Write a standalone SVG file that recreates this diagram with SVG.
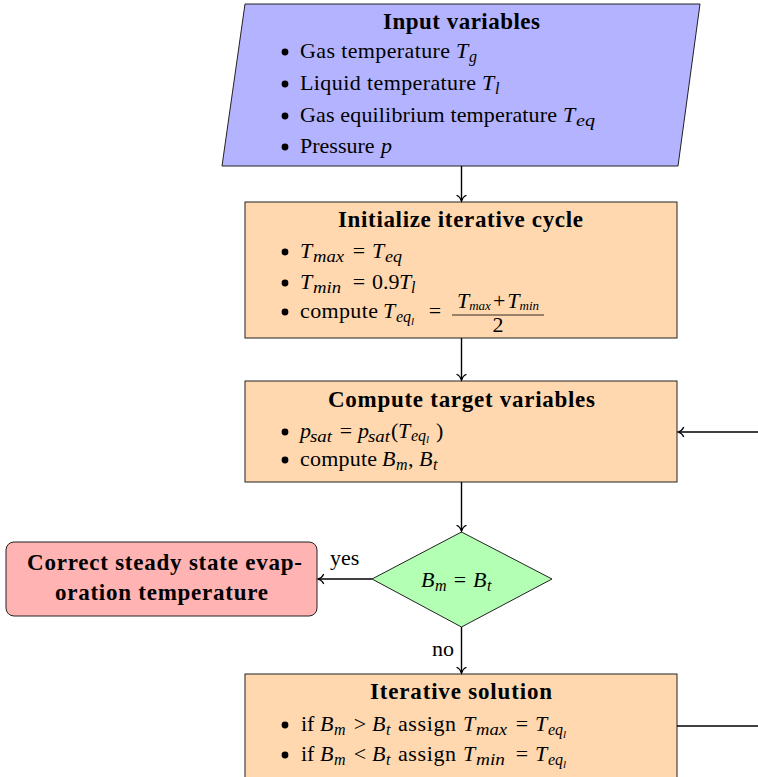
<svg xmlns="http://www.w3.org/2000/svg" width="758" height="777" viewBox="0 0 758 777">
<style>
text { font-family: "Liberation Serif", "DejaVu Serif", serif; font-size: 22px; fill: #000; }
.b { font-weight: bold; font-size: 23px; }
.m { font-style: italic; }
.s { font-size: 16px; font-style: italic; }
.shape { stroke: #222; stroke-width: 1; }
.conn { stroke: #000; stroke-width: 1.4; fill: none; }
</style>
<defs>
<marker id="arr" viewBox="-7 -6 9 12" markerWidth="9" markerHeight="12" refX="0" refY="0" orient="auto" markerUnits="userSpaceOnUse">
<path d="M-5.5,-4.5 C-4.5,-2 -1.8,-0.6 0,0 C-1.8,0.6 -4.5,2 -5.5,4.5" fill="none" stroke="#000" stroke-width="1.3" stroke-linecap="round"/>
</marker>
<circle id="bul" cx="0" cy="0" r="3.4" fill="#000"/>
</defs>

<g id="input">
<polygon class="shape" points="245,4 700,4 678,166 222,166" fill="#b3b3ff"/>
<text class="b" x="383" y="29" textLength="157" lengthAdjust="spacing">Input variables</text>
<use href="#bul" x="285" y="52"/>
<text x="300" y="58" textLength="150" lengthAdjust="spacing">Gas temperature</text>
<text class="m" x="456" y="58">T</text><text class="s" x="469" y="62">g</text>
<use href="#bul" x="285" y="84"/>
<text x="300" y="90" textLength="176" lengthAdjust="spacing">Liquid temperature</text>
<text class="m" x="482" y="90">T</text><text class="s" x="495" y="94">l</text>
<use href="#bul" x="285" y="116"/>
<text x="300" y="122" textLength="257" lengthAdjust="spacing">Gas equilibrium temperature</text>
<text class="m" x="563" y="122">T</text><text class="s" x="576" y="126" textLength="19" lengthAdjust="spacingAndGlyphs">eq</text>
<use href="#bul" x="285" y="147"/>
<text x="300" y="153">Pressure</text>
<text class="m" x="381" y="153">p</text>
</g>

<g id="init">
<rect class="shape" x="245" y="202" width="432" height="136" fill="#ffd8b0"/>
<text class="b" x="338" y="227" textLength="245" lengthAdjust="spacing">Initialize iterative cycle</text>
<use href="#bul" x="285" y="252"/>
<text class="m" x="300" y="258">T</text><text class="s" x="313" y="262" textLength="31" lengthAdjust="spacingAndGlyphs">max</text>
<text x="359" y="258" text-anchor="middle">=</text>
<text class="m" x="372" y="258">T</text><text class="s" x="385" y="262" textLength="17" lengthAdjust="spacingAndGlyphs">eq</text>
<use href="#bul" x="285" y="283"/>
<text class="m" x="300" y="289">T</text><text class="s" x="313" y="293" textLength="28" lengthAdjust="spacingAndGlyphs">min</text>
<text x="359" y="289" text-anchor="middle">=</text>
<text x="372" y="289">0.9</text>
<text class="m" x="399" y="289">T</text><text class="s" x="411" y="293">l</text>
<use href="#bul" x="285" y="312"/>
<text x="300" y="318" textLength="78" lengthAdjust="spacing">compute</text>
<text class="m" x="383" y="318">T</text><text class="s" x="396" y="322">eq<tspan font-size="11" dy="3">l</tspan></text>
<text x="435" y="318" text-anchor="middle">=</text>
<text x="498" y="308" text-anchor="middle" font-size="17" font-style="italic">T<tspan font-size="13" dy="2">max</tspan><tspan font-style="normal" dy="-2" dx="2">+</tspan><tspan dx="2">T</tspan><tspan font-size="13" dy="2">min</tspan></text>
<line x1="452" y1="315" x2="544" y2="315" stroke="#000" stroke-width="0.8"/>
<text x="498" y="332" text-anchor="middle" font-size="16">2</text>
</g>

<g id="compute">
<rect class="shape" x="245" y="381" width="432" height="101" fill="#ffd8b0"/>
<text class="b" x="328" y="407" textLength="267" lengthAdjust="spacing">Compute target variables</text>
<use href="#bul" x="285" y="432"/>
<text class="m" x="300" y="438">p</text><text class="s" x="310" y="442" textLength="22" lengthAdjust="spacingAndGlyphs">sat</text>
<text x="346" y="438" text-anchor="middle">=</text>
<text class="m" x="358" y="438">p</text><text class="s" x="368" y="442" textLength="22" lengthAdjust="spacingAndGlyphs">sat</text>
<text x="391" y="438">(</text>
<text class="m" x="398" y="438">T</text><text class="s" x="411" y="441">eq<tspan font-size="11" dy="2">l</tspan></text>
<text x="436" y="438">)</text>
<use href="#bul" x="285" y="460"/>
<text x="300" y="466" textLength="77" lengthAdjust="spacing">compute</text>
<text class="m" x="382" y="466">B</text><text class="s" x="396" y="470">m</text>
<text x="408" y="466">,</text>
<text class="m" x="419" y="466">B</text><text class="s" x="433" y="470">t</text>
</g>

<g id="decision">
<polygon class="shape" points="461.5,532 552,579 461.5,627 372,579" fill="#b3ffb3"/>
<text class="m" x="421" y="587">B</text><text class="s" x="435" y="591">m</text>
<text x="460" y="587" text-anchor="middle">=</text>
<text class="m" x="473" y="587">B</text><text class="s" x="487" y="591">t</text>
</g>

<g id="result">
<rect class="shape" x="6" y="542" width="311" height="74" rx="8" ry="8" fill="#ffb3b3"/>
<text class="b" x="27" y="570" textLength="275" lengthAdjust="spacing">Correct steady state evap-</text>
<text class="b" x="55" y="600" textLength="213" lengthAdjust="spacing">oration temperature</text>
</g>

<g id="iterative">
<rect class="shape" x="245" y="674" width="432" height="120" fill="#ffd8b0"/>
<text class="b" x="370" y="699" textLength="182" lengthAdjust="spacing">Iterative solution</text>
<use href="#bul" x="285" y="725"/>
<text x="301" y="731">if</text>
<text class="m" x="320" y="731">B</text><text class="s" x="334" y="735">m</text>
<text x="360" y="731" text-anchor="middle">&gt;</text>
<text class="m" x="372" y="731">B</text><text class="s" x="386" y="735">t</text>
<text x="398" y="731" textLength="58" lengthAdjust="spacing">assign</text>
<text class="m" x="463" y="731">T</text><text class="s" x="476" y="735" textLength="31" lengthAdjust="spacingAndGlyphs">max</text>
<text x="522" y="731" text-anchor="middle">=</text>
<text class="m" x="535" y="731">T</text><text class="s" x="548" y="735">eq<tspan font-size="11" dy="3">l</tspan></text>
<use href="#bul" x="285" y="755"/>
<text x="301" y="761">if</text>
<text class="m" x="320" y="761">B</text><text class="s" x="334" y="765">m</text>
<text x="360" y="761" text-anchor="middle">&lt;</text>
<text class="m" x="372" y="761">B</text><text class="s" x="386" y="765">t</text>
<text x="398" y="761" textLength="58" lengthAdjust="spacing">assign</text>
<text class="m" x="463" y="761">T</text><text class="s" x="476" y="765" textLength="29" lengthAdjust="spacingAndGlyphs">min</text>
<text x="522" y="761" text-anchor="middle">=</text>
<text class="m" x="535" y="761">T</text><text class="s" x="548" y="765">eq<tspan font-size="11" dy="3">l</tspan></text>
</g>

<g id="connectors">
<path class="conn" d="M461.5,166 L461.5,201" marker-end="url(#arr)"/>
<path class="conn" d="M461.5,338 L461.5,380" marker-end="url(#arr)"/>
<path class="conn" d="M461.5,482 L461.5,531" marker-end="url(#arr)"/>
<path class="conn" d="M461.5,627 L461.5,673" marker-end="url(#arr)"/>
<path class="conn" d="M372,579 L318,579" marker-end="url(#arr)"/>
<path class="conn" d="M758,432 L678,432" marker-end="url(#arr)"/>
<path class="conn" d="M677,726 L758,726"/>
<text x="330" y="565">yes</text>
<text x="432" y="656">no</text>
</g>
</svg>
